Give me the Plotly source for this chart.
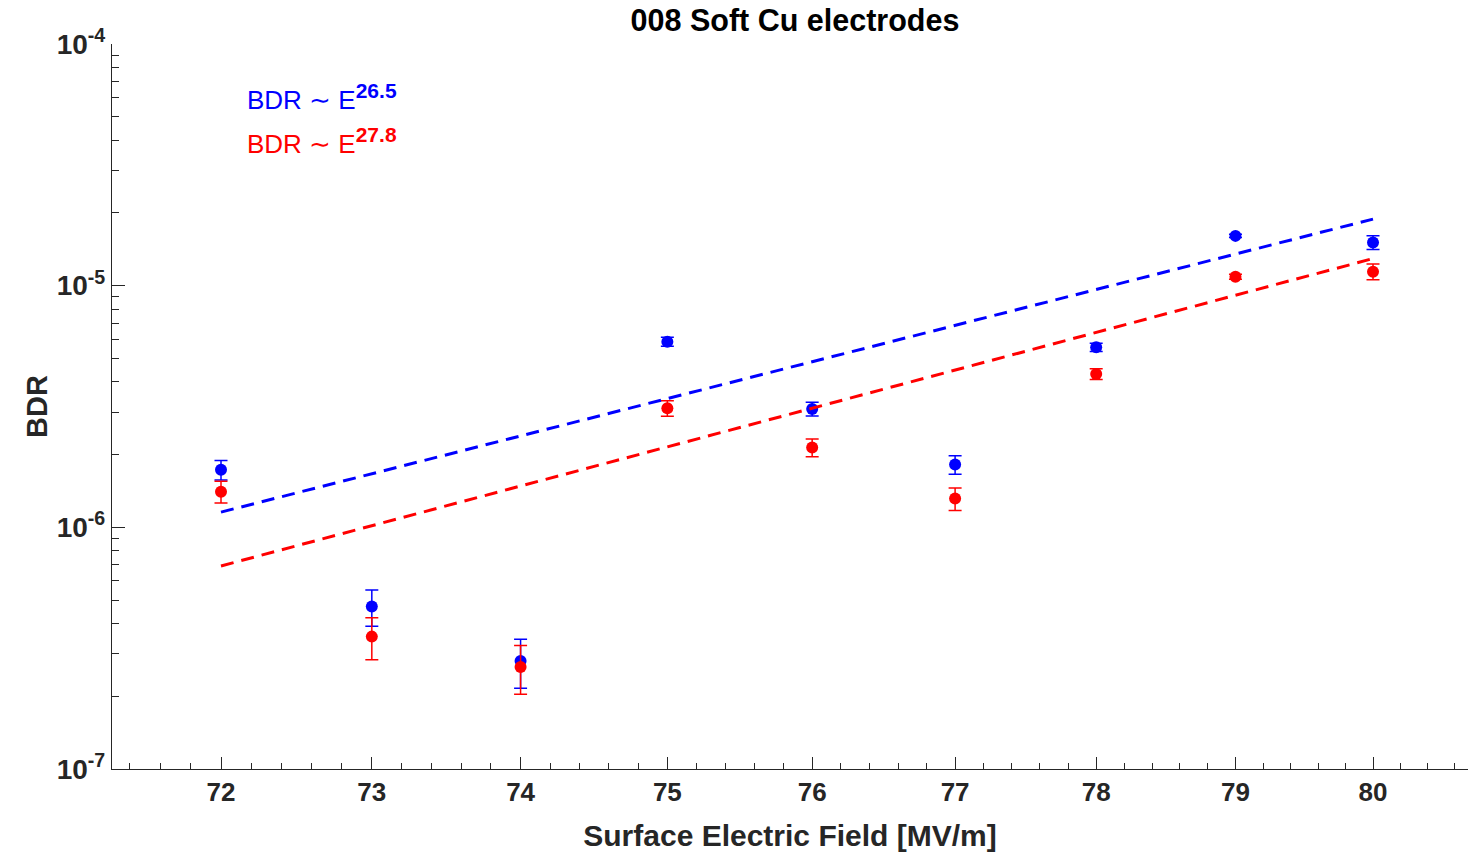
import numpy as np
import plotly.graph_objects as go

# Surface electric field [MV/m]
field = [72, 73, 74, 75, 76, 77, 78, 79, 80]

# Breakdown rate, two counting methods, with uncertainties
bdr_blue = [1.73e-6, 4.70e-7, 2.80e-7, 5.86e-6, 3.09e-6, 1.82e-6, 5.56e-6, 1.607e-5, 1.51e-5]
err_blue = [0.16e-6, 0.80e-7, 0.64e-7, 0.25e-6, 0.20e-6, 0.16e-6, 0.22e-6, 0.25e-6, 1.0e-6]
bdr_red = [1.405e-6, 3.53e-7, 2.64e-7, 3.11e-6, 2.14e-6, 1.315e-6, 4.31e-6, 1.089e-5, 1.143e-5]
err_red = [0.145e-6, 0.70e-7, 0.60e-7, 0.23e-6, 0.18e-6, 0.14e-6, 0.22e-6, 0.25e-6, 0.85e-6]

# Power-law fits BDR = A * E^k, anchored at the lowest field
k_blue, bdr72_blue = 26.5, 1.156e-6
k_red, bdr72_red = 27.8, 6.92e-7

# Axis ticks (both axes logarithmic)
x_ticks = [72, 73, 74, 75, 76, 77, 78, 79, 80]
x_minor = [round(71.4 + 0.2 * i, 1) for i in range(47)]
x_minor = [v for v in x_minor if abs(v - round(v)) > 1e-6]
y_ticks = [1e-7, 1e-6, 1e-5, 1e-4]
y_ticktext = ["10<sup>-7</sup>", "10<sup>-6</sup>", "10<sup>-5</sup>", "10<sup>-4</sup>"]
y_minor = [m * 10.0 ** e for e in (-7, -6, -5) for m in range(2, 10)]

BLUE = "rgb(0,0,255)"
RED = "rgb(255,0,0)"
FONT = "Liberation Sans, Arial, Helvetica, sans-serif"
AXC = "#262626"

E = np.array(field, dtype=float)
fit_blue = bdr72_blue * (E / 72.0) ** k_blue
fit_red = bdr72_red * (E / 72.0) ** k_red

fig = go.Figure()

for y, e, c in ((bdr_blue, err_blue, BLUE), (bdr_red, err_red, RED)):
    fig.add_trace(go.Scatter(
        x=field, y=y, mode="markers",
        marker=dict(color=c, size=12, line=dict(width=0)),
        error_y=dict(type="data", array=e, visible=True, color=c,
                     thickness=1.5, width=6.5),
        showlegend=False, hoverinfo="x+y",
    ))

for y, c in ((fit_blue, BLUE), (fit_red, RED)):
    fig.add_trace(go.Scatter(
        x=E, y=y, mode="lines",
        line=dict(color=c, width=3, dash="13px,8px"),
        showlegend=False,
    ))


def fit_label(k):
    return ("BDR ∼ E<sup><span style='font-size:21px'><b>%s</b></span></sup>" % k)


x_lab = np.log10(72) + 24 / 25176
fig.add_annotation(
    x=x_lab, y=-4.219, xref="x", yref="y", xanchor="left", yanchor="middle",
    text=fit_label(k_blue), showarrow=False,
    font=dict(family=FONT, size=26, color=BLUE),
)
fig.add_annotation(
    x=x_lab, y=-4.401, xref="x", yref="y", xanchor="left", yanchor="middle",
    text=fit_label(k_red), showarrow=False,
    font=dict(family=FONT, size=26, color=RED),
)

fig.update_layout(
    width=1471, height=854,
    margin=dict(l=112, r=3, t=44, b=85),
    paper_bgcolor="white", plot_bgcolor="white",
    font=dict(family=FONT, color=AXC),
    title=dict(text="008 Soft Cu electrodes", x=0.5037, xref="paper",
               y=1 - 20 / 854, yref="container", xanchor="center", yanchor="middle",
               font=dict(family=FONT, size=30.5, color="black", weight="bold")),
    xaxis=dict(
        type="log", range=[1.853003, 1.906863],
        showgrid=False, zeroline=False,
        showline=True, linecolor=AXC, linewidth=1.3, mirror=False,
        tickmode="array", tickvals=x_ticks, ticktext=[str(v) for v in x_ticks],
        ticks="inside", ticklen=12, tickwidth=1.3, tickcolor=AXC,
        tickfont=dict(family=FONT, size=26, color=AXC, weight="bold"),
        minor=dict(tickmode="array", tickvals=x_minor, ticks="inside", ticklen=6,
                   tickwidth=1.1, tickcolor=AXC, showgrid=False),
        title=dict(text="Surface Electric Field [MV/m]", standoff=18,
                   font=dict(family=FONT, size=30, color=AXC, weight="bold")),
    ),
    yaxis=dict(
        type="log", range=[-7, -4], showgrid=False, zeroline=False,
        showline=True, linecolor=AXC, linewidth=1.3, mirror=False,
        tickmode="array", tickvals=y_ticks, ticktext=y_ticktext,
        ticks="inside", ticklen=13, tickwidth=1.3, tickcolor=AXC,
        tickfont=dict(family=FONT, size=28, color=AXC, weight="bold"),
        minor=dict(tickmode="array", tickvals=y_minor, ticks="inside",
                   ticklen=7, tickwidth=1.1, tickcolor=AXC, showgrid=False),
        title=dict(text="BDR", standoff=0,
                   font=dict(family=FONT, size=29, color=AXC, weight="bold")),
    ),
)

fig.write_html("out.html")
